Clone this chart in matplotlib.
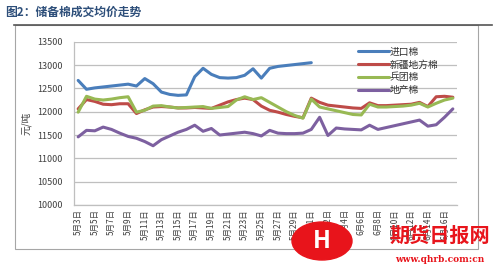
import numpy as np
import matplotlib.pyplot as plt
from matplotlib.patches import Rectangle, Ellipse
from matplotlib.lines import Line2D

plt.rcParams['font.family'] = ['Noto Sans CJK SC', 'DejaVu Sans']

# 5/3 .. 6/17, one point per day
days = [(5, d) for d in range(3, 32)] + [(6, d) for d in range(1, 18)]
date_labels = ['%d月%d日' % (m, d) for m, d in days]

imported = [12670, 12480, 12510, 12530, 12550, 12570, 12590, 12550, 12710, 12600,
            12420, 12370, 12350, 12360, 12750, 12930, 12800, 12730, 12720, 12730,
            12780, 12920, 12720, 12930, 12970, 12990, 13010, 13030, 13050]
xinjiang = [12060, 12260, 12220, 12160, 12150, 12170, 12170, 11960, 12040, 12100,
            12110, 12100, 12080, 12080, 12090, 12080, 12070, 12140, 12210, 12260,
            12290, 12260, 12120, 12030, 11990, 11940, 11900, 11870, 12290, 12200,
            12140, 12120, 12100, 12080, 12070, 12190, 12130, 12130, 12140, 12150,
            12160, 12200, 12110, 12320, 12330, 12310]
bingtuan = [11990, 12330, 12270, 12250, 12270, 12300, 12320, 11990, 12030, 12120,
            12130, 12100, 12080, 12090, 12100, 12110, 12070, 12090, 12110, 12250,
            12320, 12260, 12300, 12200, 12100, 12000, 11920, 11860, 12270, 12100,
            12060, 12020, 11980, 11940, 11930, 12160, 12100, 12100, 12110, 12120,
            12140, 12180, 12100, 12180, 12250, 12290]
dichan = [11460, 11600, 11590, 11670, 11620, 11540, 11470, 11430, 11360, 11270,
          11400, 11480, 11560, 11620, 11710, 11580, 11640, 11500, 11520, 11540,
          11560, 11530, 11480, 11600, 11540, 11530, 11530, 11540, 11620, 11880,
          11490, 11650, 11630, 11620, 11610, 11710, 11620, 11660, 11700, 11740,
          11780, 11820, 11690, 11720, 11880, 12060]

series = [('进口棉', imported, '#4A7EBB'),
          ('新疆地方棉', xinjiang, '#BE4B48'),
          ('兵团棉', bingtuan, '#98B954'),
          ('地产棉', dichan, '#7D60A0')]

fig = plt.figure(figsize=(5.0, 2.69), dpi=100)

# outer frame and title
fig.patches.append(Rectangle((15/500, 1-249/269), 463/500, 224/269, transform=fig.transFigure,
                             fill=False, edgecolor='#A6A6A6', lw=0.8))
fig.lines.append(Line2D([14/500, 492/500], [1-24.5/269, 1-24.5/269], transform=fig.transFigure,
                        color='#555555', lw=1.2))
fig.text(5/500, 1-12/269, '图2：储备棉成交均价走势', fontsize=8.5, color='#2E4F7A',
         fontweight='bold', va='center', ha='left')

ax = fig.add_axes([74/500, 1-205/269, 383/500, 163.3/269])
x = np.arange(len(date_labels))
for name, vals, c in series:
    ax.plot(x[:len(vals)], vals, color=c, lw=2.2, label=name,
            solid_joinstyle='round', solid_capstyle='round')

ax.set_xlim(-0.5, len(date_labels) - 0.5)
ax.set_ylim(10000, 13500)
ax.set_yticks(np.arange(10000, 13501, 500))
ax.set_xticks(x[::2])
ax.set_xticklabels(date_labels[::2], rotation=90, fontsize=6, color='#404040')
ax.tick_params(axis='y', labelsize=6.5, colors='#404040', length=0, pad=8)
ax.tick_params(axis='x', length=0, pad=3)
ax.grid(axis='y', color='#BFBFBF', lw=0.9)
ax.set_axisbelow(True)
for s in ['top', 'right']:
    ax.spines[s].set_visible(False)
for s in ['left', 'bottom']:
    ax.spines[s].set_color('#BFBFBF')
    ax.spines[s].set_linewidth(0.9)
ax.set_ylabel('元/吨', fontsize=7, color='#404040', labelpad=4)

leg = ax.legend(loc='upper right', bbox_to_anchor=(0.965, 1.0), frameon=False, fontsize=7,
                handlelength=3.2, handletextpad=0.1, labelspacing=0.3, borderaxespad=0.1)
for t in leg.get_texts():
    t.set_color('#333333')

# watermark
fig.patches.append(Ellipse((322/500, 1-241/269), 60/500, 38/269, transform=fig.transFigure,
                           color='#E8141B', zorder=10))
fig.text(322/500, 1-241/269, 'H', fontsize=17, color='white', fontweight='bold',
         ha='center', va='center', zorder=11)
fig.text(440/500, 1-235/269, '期货日报网', fontsize=14.5, color='#E8141B', fontweight='bold',
         ha='center', va='center', zorder=11)
fig.text(440/500, 1-259/269, 'www.qhrb.com:cn', fontsize=6.5, color='#E8141B', fontweight='bold',
         ha='center', va='center', family='DejaVu Serif', zorder=11)

fig.savefig('out.png', dpi=100)
